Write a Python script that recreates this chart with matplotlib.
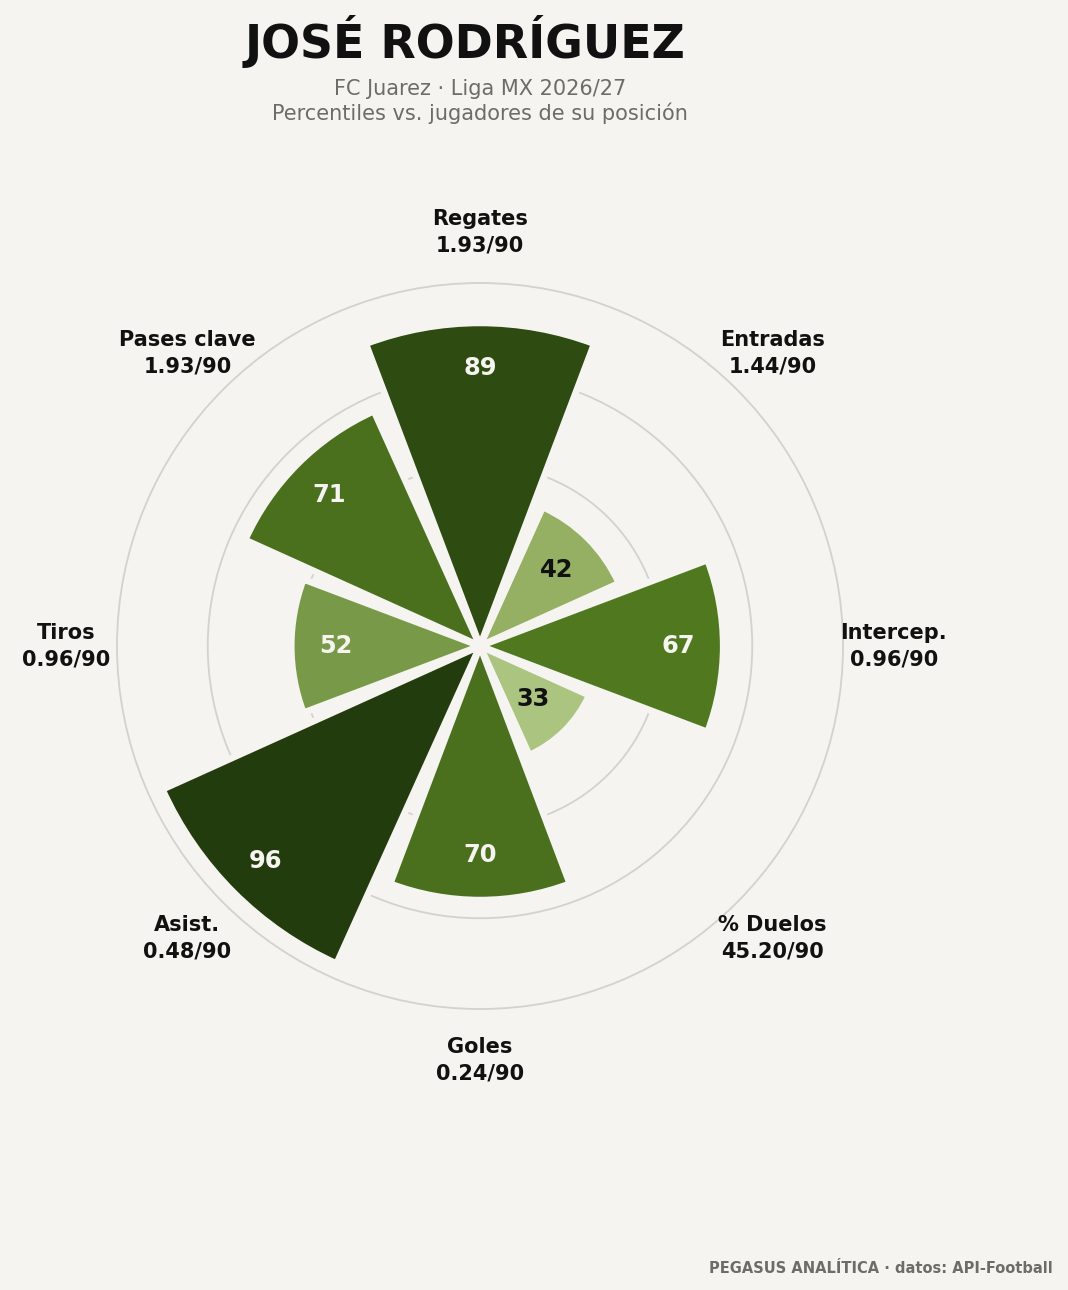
import numpy as np
import matplotlib
matplotlib.use("Agg")
import matplotlib.pyplot as plt

# ---- data ----
player = "JOSÉ RODRÍGUEZ"
subtitle_1 = "FC Juarez · Liga MX 2026/27"
subtitle_2 = "Percentiles vs. jugadores de su posición"
footer = "PEGASUS ANALÍTICA · datos: API-Football"

categories = ["Regates", "Entradas", "Intercep.", "% Duelos",
              "Goles", "Asist.", "Tiros", "Pases clave"]
per90 = [1.93, 1.44, 0.96, 45.20, 0.24, 0.48, 0.96, 1.93]
percentiles = [89, 42, 67, 33, 70, 96, 52, 71]

# ---- style ----
BG = "#f5f4f0"
GRID = "#d4d2cc"
bar_colors = ["#2e4b12", "#95b063", "#4f781f", "#abc47f",
              "#4a701e", "#233c0e", "#789a48", "#4a701e"]

plt.rcParams["font.family"] = ["DejaVu Sans"]

fig = plt.figure(figsize=(8.9, 10.75), dpi=120, facecolor=BG)
W, H = 1068, 1290
cx, cy, R = 480, 646, 363
ax = fig.add_axes([(cx - R) / W, (H - cy - R) / H, 2 * R / W, 2 * R / H],
                  projection="polar", facecolor=BG)
ax.set_theta_offset(np.pi / 2)
ax.set_theta_direction(-1)

n = len(categories)
theta = np.arange(n) * 2 * np.pi / n
width = 2 * np.pi / n * 0.92

ax.set_ylim(0, 100)
ax.set_yticks([25, 50, 75])
ax.set_yticklabels([])
ax.set_xticks(theta)
ax.set_xticklabels([])
ax.xaxis.grid(False)
ax.yaxis.grid(True, color=GRID, linewidth=1.1)
ax.spines["polar"].set_color(GRID)
ax.spines["polar"].set_linewidth(1.1)
ax.tick_params(length=0)
ax.set_axisbelow(True)

ax.bar(theta, percentiles, width=width, color=bar_colors,
       edgecolor=BG, linewidth=4.0, zorder=3)

for t, v in zip(theta, percentiles):
    ax.text(t, v - 12.3, f"{v}", ha="center", va="center",
            fontsize=14.5, fontweight="bold",
            color="#f5f4f0" if v >= 50 else "#111111", zorder=5)

for t, c, p in zip(theta, categories, per90):
    ax.text(t, 114, f"{c}\n{p:.2f}/90", ha="center", va="center",
            fontsize=12.5, fontweight="bold", color="#111111",
            linespacing=1.4, clip_on=False, zorder=5)

fig.text(465 / W, 1 - 58 / H, player, ha="center", va="baseline",
         fontsize=27.5, fontweight="bold", color="#111111")
fig.text(480 / W, 1 - 95 / H, subtitle_1, ha="center", va="baseline",
         fontsize=12.5, color="#6d6d68")
fig.text(480 / W, 1 - 120 / H, subtitle_2, ha="center", va="baseline",
         fontsize=12.5, color="#6d6d68")
fig.text(1053 / W, 1 - 1273 / H, footer, ha="right", va="baseline",
         fontsize=8.8, fontweight="bold", color="#6d6d68")

fig.savefig("out.png", dpi=120, facecolor=BG)
